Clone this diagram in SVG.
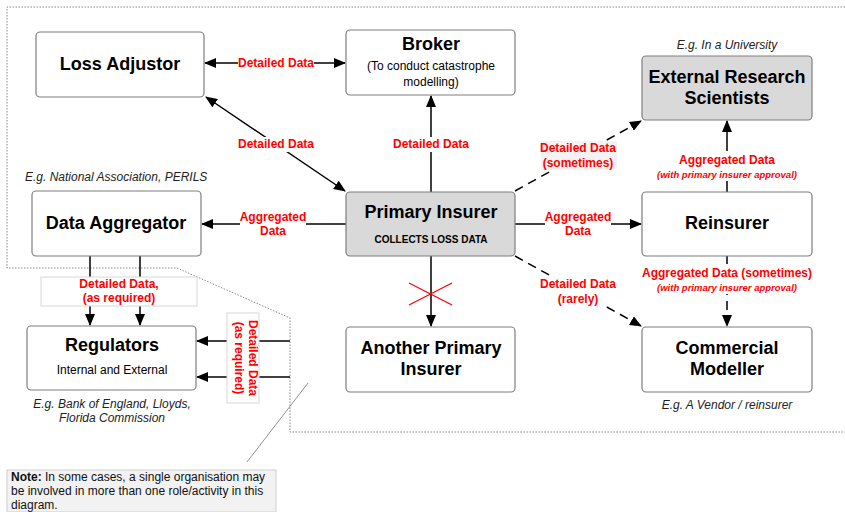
<svg xmlns="http://www.w3.org/2000/svg" width="845" height="512" viewBox="0 0 845 512">
<style>
.box{fill:#fff;stroke:#7f7f7f;stroke-width:1.2}
.gbox{fill:#d9d9d9;stroke:#7f7f7f;stroke-width:1.2}
.t{font-family:"Liberation Sans",Arial,sans-serif;font-weight:bold;font-size:18px;fill:#000;text-anchor:middle}
.s{font-family:"Liberation Sans",Arial,sans-serif;font-size:12px;fill:#000;text-anchor:middle}
.eg{font-family:"Liberation Sans",Arial,sans-serif;font-style:italic;font-size:12px;fill:#222;text-anchor:middle}
.lb{font-family:"Liberation Sans",Arial,sans-serif;font-weight:bold;font-size:12px;fill:#ff0000;text-anchor:middle}
.lbi{font-family:"Liberation Sans",Arial,sans-serif;font-weight:bold;font-style:italic;font-size:9.5px;fill:#ff0000;text-anchor:middle}
.ln{stroke:#000;stroke-width:1.5;fill:none}
.dash{stroke:#000;stroke-width:1.5;fill:none;stroke-dasharray:9,6}
.bg{fill:#fff;stroke:none}
</style>
<defs>
<marker id="ah" markerUnits="userSpaceOnUse" markerWidth="12" markerHeight="10" refX="11" refY="5" orient="auto-start-reverse">
<path d="M0,0 L12,5 L0,10 z" fill="#000"/>
</marker>
</defs>
<g id="boundary">
<path d="M845,7 L7,7 L7,268 L177,268 L290,318 L290,432 L845,432" fill="none" stroke="#888" stroke-width="1" stroke-dasharray="1.5,1.5"/>
</g>
<g id="connectors">
<line class="ln" x1="205" y1="63" x2="345" y2="63" marker-start="url(#ah)" marker-end="url(#ah)"/>
<line class="ln" x1="206" y1="97" x2="345" y2="191" marker-start="url(#ah)" marker-end="url(#ah)"/>
<line class="ln" x1="431" y1="192" x2="431" y2="96" marker-end="url(#ah)"/>
<line class="ln" x1="346" y1="224" x2="202" y2="224" marker-end="url(#ah)"/>
<line class="dash" x1="515" y1="191" x2="641" y2="121" marker-end="url(#ah)"/>
<line class="ln" x1="515" y1="224" x2="641" y2="224" marker-end="url(#ah)"/>
<line class="ln" x1="727" y1="192" x2="727" y2="121" marker-end="url(#ah)"/>
<line class="dash" x1="515" y1="256" x2="641" y2="326" marker-end="url(#ah)"/>
<line class="dash" x1="727" y1="256" x2="727" y2="326" marker-end="url(#ah)"/>
<line class="ln" x1="431" y1="256" x2="431" y2="326" marker-end="url(#ah)"/>
<line x1="409" y1="283" x2="452" y2="305" stroke="#ff0000" stroke-width="1.3"/>
<line x1="409" y1="305" x2="452" y2="283" stroke="#ff0000" stroke-width="1.3"/>
<line class="ln" x1="90" y1="256" x2="90" y2="325" marker-end="url(#ah)"/>
<line class="ln" x1="140" y1="256" x2="140" y2="325" marker-end="url(#ah)"/>
<line class="ln" x1="290" y1="341" x2="197" y2="341" marker-end="url(#ah)"/>
<line class="ln" x1="290" y1="377" x2="197" y2="377" marker-end="url(#ah)"/>
<line x1="247" y1="462" x2="308" y2="383" stroke="#777" stroke-width="0.8"/>
<rect class="bg" x="238" y="55" width="76" height="15"/>
<text class="lb" x="276" y="67">Detailed Data</text>
<rect class="bg" x="236" y="137" width="80" height="15"/>
<text class="lb" x="276" y="148">Detailed Data</text>
<rect class="bg" x="391" y="137" width="80" height="15"/>
<text class="lb" x="431" y="148">Detailed Data</text>
<rect class="bg" x="240" y="209" width="66" height="28"/>
<text class="lb" x="273" y="221">Aggregated</text>
<text class="lb" x="273" y="235">Data</text>
<rect x="541" y="141" width="76" height="29" fill="#f3f3f3"/>
<text class="lb" x="578" y="152">Detailed Data</text>
<text class="lb" x="578" y="167">(sometimes)</text>
<rect class="bg" x="545" y="209" width="66" height="28"/>
<text class="lb" x="578" y="221">Aggregated</text>
<text class="lb" x="578" y="235">Data</text>
<rect class="bg" x="655" y="151" width="144" height="30"/>
<text class="lb" x="727" y="164">Aggregated Data</text>
<text class="lbi" x="727" y="178">(with primary insurer approval)</text>
<rect class="bg" x="540" y="276" width="76" height="29"/>
<text class="lb" x="578" y="288">Detailed Data</text>
<text class="lb" x="578" y="303">(rarely)</text>
<rect class="bg" x="640" y="264" width="174" height="30"/>
<text class="lb" x="727" y="277">Aggregated Data (sometimes)</text>
<text class="lbi" x="727" y="291">(with primary insurer approval)</text>
<rect x="41" y="277" width="156" height="29" fill="#fff" stroke="#d8d8d8" stroke-width="1"/>
<text class="lb" x="119" y="288">Detailed Data,</text>
<text class="lb" x="119" y="302">(as required)</text>
<rect x="227" y="313" width="32" height="90" fill="#fff" stroke="#d8d8d8" stroke-width="1"/>
<text class="lb" transform="translate(249,358) rotate(90)" x="0" y="0">Detailed Data</text>
<text class="lb" transform="translate(235,358) rotate(90)" x="0" y="0">(as required)</text>
</g>
<g id="loss-adjustor">
<rect class="box" x="36" y="32" width="168" height="65" rx="4"/>
<text class="t" x="120" y="70">Loss Adjustor</text>
</g>
<g id="broker">
<rect class="box" x="346" y="30" width="169" height="65" rx="4"/>
<text class="t" x="431" y="50">Broker</text>
<text class="s" x="431" y="70">(To conduct catastrophe</text>
<text class="s" x="431" y="86">modelling)</text>
</g>
<g id="external-research-scientists">
<text class="eg" x="727" y="49">E.g. In a University</text>
<rect class="gbox" x="642" y="56" width="170" height="64" rx="4"/>
<text class="t" x="727" y="83">External Research</text>
<text class="t" x="727" y="104">Scientists</text>
</g>
<g id="data-aggregator">
<text class="eg" x="25" y="181" style="text-anchor:start">E.g. National Association, PERILS</text>
<rect class="box" x="32" y="191" width="169" height="65" rx="4"/>
<text class="t" x="116" y="229">Data Aggregator</text>
</g>
<g id="primary-insurer">
<rect class="gbox" x="346" y="192" width="169" height="64" rx="4"/>
<text class="t" x="431" y="218">Primary Insurer</text>
<text x="431" y="243" style="font-family:'Liberation Sans',Arial,sans-serif;font-weight:bold;font-size:10px;fill:#000;text-anchor:middle">COLLECTS LOSS DATA</text>
</g>
<g id="reinsurer">
<rect class="box" x="642" y="192" width="170" height="64" rx="4"/>
<text class="t" x="727" y="229">Reinsurer</text>
</g>
<g id="regulators">
<rect class="box" x="27" y="326" width="169" height="64" rx="4"/>
<text class="t" x="112" y="351">Regulators</text>
<text class="s" x="112" y="374">Internal and External</text>
<text class="eg" x="112" y="408">E.g. Bank of England, Lloyds,</text>
<text class="eg" x="112" y="422">Florida Commission</text>
</g>
<g id="another-primary-insurer">
<rect class="box" x="346" y="327" width="169" height="65" rx="4"/>
<text class="t" x="431" y="354">Another Primary</text>
<text class="t" x="431" y="375">Insurer</text>
</g>
<g id="commercial-modeller">
<rect class="box" x="642" y="327" width="170" height="65" rx="4"/>
<text class="t" x="727" y="354">Commercial</text>
<text class="t" x="727" y="375">Modeller</text>
<text class="eg" x="727" y="409">E.g. A Vendor / reinsurer</text>
</g>
<g id="note">
<rect x="7" y="470" width="269" height="42" fill="#f2f2f2" stroke="#d0d0d0" stroke-width="1"/>
<text x="11" y="481" style="font-family:'Liberation Sans',Arial,sans-serif;font-size:12px;fill:#111"><tspan font-weight="bold">Note:</tspan> In some cases, a single organisation may</text>
<text x="11" y="495" style="font-family:'Liberation Sans',Arial,sans-serif;font-size:12px;fill:#111">be involved in more than one role/activity in this</text>
<text x="11" y="509" style="font-family:'Liberation Sans',Arial,sans-serif;font-size:12px;fill:#111">diagram.</text>
</g>
</svg>
